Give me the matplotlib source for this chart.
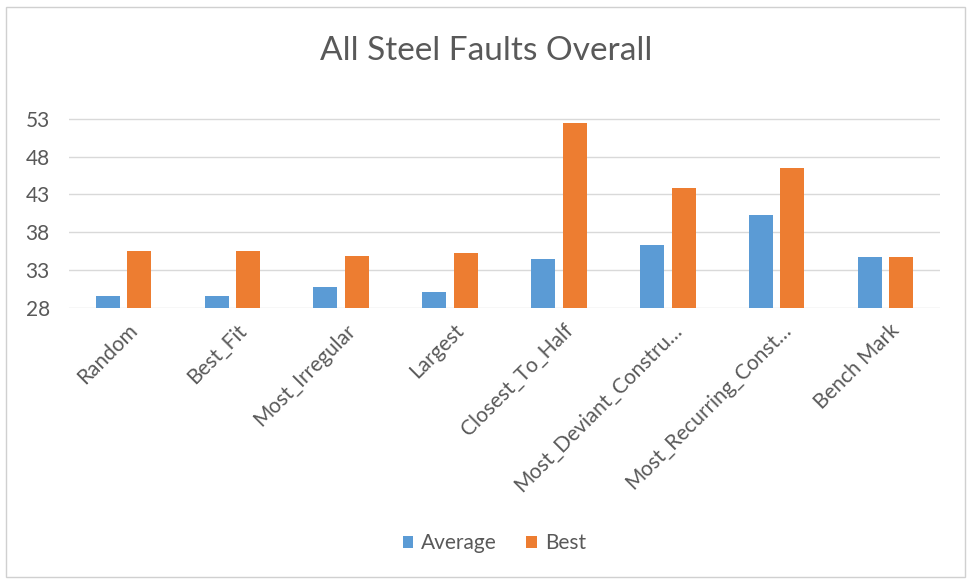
import matplotlib.pyplot as plt
import matplotlib.transforms as mtransforms
import numpy as np
from matplotlib.patches import Rectangle

categories = ['Random', 'Best_Fit', 'Most_Irregular', 'Largest', 'Closest_To_Half',
              'Most_Deviant_Constru\u2026', 'Most_Recurring_Const\u2026', 'Bench Mark']
average = [29.6, 29.6, 30.7, 30.1, 34.5, 36.3, 40.3, 34.7]
best = [35.5, 35.5, 34.9, 35.2, 52.4, 43.8, 46.5, 34.7]
yticks = [28, 33, 38, 43, 48, 53]

plt.rcParams['font.family'] = ['Lato', 'DejaVu Sans']
text_col = '#595959'

fig = plt.figure(figsize=(9.73, 5.83), dpi=100)
fig.patches.append(Rectangle((0.006, 0.01), 0.986, 0.978, transform=fig.transFigure,
                             fill=False, edgecolor='#d0d0d0', linewidth=1))

ax = fig.add_axes([0.071, 0.472, 0.895, 0.35])
x = np.arange(len(categories))
w = 0.22
ax.bar(x - 0.145, average, width=w, color='#5b9bd5', label='Average', zorder=3)
ax.bar(x + 0.145, best, width=w, color='#ed7d31', label='Best', zorder=3)

ax.set_ylim(28, 55)
ax.set_xlim(-0.5, len(categories) - 0.5)
ax.set_yticks(yticks)
ax.set_yticklabels([str(t) for t in yticks], fontsize=15, color=text_col)
ax.set_xticks(x)
ax.set_xticklabels(categories, rotation=45, ha='right', rotation_mode='anchor',
                   fontsize=15, color=text_col)
ax.tick_params(axis='x', length=0, pad=9)
ax.tick_params(axis='y', length=0, pad=14)
shift = mtransforms.ScaledTranslation(4 / 100, 0, fig.dpi_scale_trans)
for lbl in ax.get_xticklabels():
    lbl.set_transform(lbl.get_transform() + shift)
ax.grid(axis='y', color='#d9d9d9', linewidth=1, zorder=0)
for s in ax.spines.values():
    s.set_visible(False)

fig.text(0.5, 0.912, 'All Steel Faults Overall', ha='center', va='center',
         fontsize=24, color=text_col)
fig.legend(loc='center', bbox_to_anchor=(0.508, 0.068), ncol=2, frameon=False,
           fontsize=15, handlelength=0.5, handleheight=0.5, handletextpad=0.4,
           columnspacing=1.4, labelcolor=text_col)

fig.savefig('out.png', dpi=100)
